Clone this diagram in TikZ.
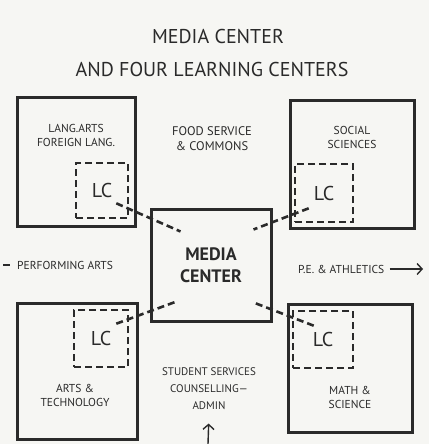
\documentclass[tikz,border=0pt]{standalone}
\usepackage{fontspec}
\setmainfont{PT Sans}
\usepackage{tikz}
\usetikzlibrary{calc,arrows.meta}
\definecolor{ink}{HTML}{2A2A2A}
\definecolor{paper}{HTML}{F6F6F3}

\begin{document}
\begin{tikzpicture}[x=1pt, y=-1pt, ink, >={Straight Barb[length=5pt,width=11pt]},
		room/.style={draw, line width=3pt, inner sep=0pt},
		lcbox/.style={draw, line width=2.6pt, dash pattern=on 7pt off 4pt, inner sep=0pt, font=\fontsize{20}{20}\selectfont},
		link/.style={line width=2.6pt, dash pattern=on 7pt off 4pt},
		lbl/.style={align=center, font=\fontsize{11.5}{14}\selectfont},
		big/.style={align=center, font=\fontsize{20}{22}\selectfont}]
	\fill[paper] (0,0) rectangle (429,444);
	\useasboundingbox (0,0) rectangle (429,444);

	\node[big] (title) at (218,37) {MEDIA CENTER};
	\node[big] (subtitle) at (212,69) {AND FOUR LEARNING CENTERS};

	\node[room, minimum width=118pt, minimum height=129pt] (langbox) at (76,161.5) {};
	\node[room, minimum width=124pt, minimum height=128pt] (socbox) at (352,164) {};
	\node[room, minimum width=120pt, minimum height=136pt] (artbox) at (77,371) {};
	\node[room, minimum width=124pt, minimum height=128pt] (mathbox) at (350,368) {};
	\node[room, minimum width=120pt, minimum height=112pt, align=center,
		font=\fontsize{18}{22}\selectfont\bfseries] (media) at (211,265) {MEDIA\\CENTER};

	\node[lcbox, minimum width=52pt, minimum height=55pt] (lcA) at (102,190.5) {LC};
	\node[lcbox, minimum width=58pt, minimum height=58pt] (lcB) at (324,193) {LC};
	\node[lcbox, minimum width=54pt, minimum height=57pt] (lcC) at (101,338.5) {LC};
	\node[lcbox, minimum width=60pt, minimum height=57pt] (lcD) at (323,339.5) {LC};

	\draw[link] ($(lcA.south east)+(-13,-16)$) -- ($(media.north west)+(31,24)$);
	\draw[link] ($(lcB.south west)+(15,-15)$) -- ($(media.north east)+(-19,22)$);
	\draw[link] ($(lcC.north east)+(-13,15)$) -- ($(media.south west)+(27,-21)$);
	\draw[link] ($(lcD.north west)+(22,16)$) -- ($(media.south east)+(-19,-20)$);

	\node[lbl] (lang) at (76,135) {LANG.ARTS\\FOREIGN LANG.};
	\node[lbl] (social) at (352,137) {SOCIAL\\SCIENCES};
	\node[lbl] (arts) at (75,395) {ARTS \&\\TECHNOLOGY};
	\node[lbl] (math) at (350,397) {MATH \&\\SCIENCE};
	\node[lbl, font=\fontsize{12.5}{15}\selectfont] (food) at (212,139) {FOOD SERVICE\\\& COMMONS};
	\node[lbl, anchor=west, inner sep=1pt] (perf) at (16,265) {PERFORMING ARTS};
	\node[lbl, anchor=west, inner sep=1pt] (pe) at (297,269) {P.E. \& ATHLETICS};
	\node[lbl, font=\fontsize{11}{17}\selectfont] (student) at (209,389) {STUDENT SERVICES\\COUNSELLING—\\ADMIN};

	\coordinate (westedge) at (3,265);
	\coordinate (eastend) at (423,269);
	\coordinate (southedge) at (208,444);
	\draw[line width=1.4pt] (westedge) -- ($(perf.west)+(-6,0)$);
	\draw[line width=1.4pt, ->] ($(pe.east)+(4,0)$) -- (eastend);
	\draw[line width=1.4pt, ->, shorten >=10pt] (southedge) -- (student.south);
\end{tikzpicture}
\end{document}
